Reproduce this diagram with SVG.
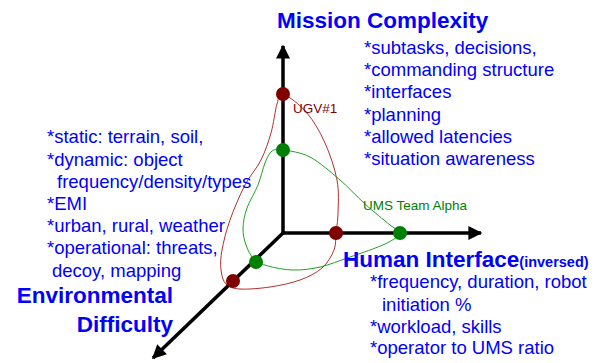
<svg xmlns="http://www.w3.org/2000/svg" width="600" height="363" viewBox="0 0 600 363">
<defs>
<style>
.title{font-family:"Liberation Sans",Arial,sans-serif;font-weight:bold;font-size:22.5px;fill:#0000ff}
.item{font-family:"Liberation Sans",Arial,sans-serif;font-size:18.5px;fill:#0000ff}
.lbl{font-family:"Liberation Sans",Arial,sans-serif;font-size:13.5px}
.axis{stroke:#000;stroke-width:3.5;fill:none}
.loop{fill:none;stroke-width:1}
</style>
<marker id="ah" viewBox="0 0 10 10" refX="9" refY="5" markerWidth="4.4" markerHeight="4" orient="auto" markerUnits="strokeWidth">
<path d="M0,0 L10,5 L0,10 Z" fill="#000"/>
</marker>
</defs>
<rect width="600" height="363" fill="#fff"/>
<g id="loops">
<path id="ugv-loop" class="loop" stroke="#b03030" d="M283,94 C288,95.5 300,104.8 307,113 C314,121.2 320,131.8 325,143 C330,154.2 334.8,168.3 337,180 C339.2,191.7 338.2,204.2 338,213 C337.8,221.8 336.7,226.8 336,233 C335.3,239.2 336.3,244.2 334,250 C331.7,255.8 327.7,263 322,268 C316.3,273 308.7,276.8 300,280 C291.3,283.2 280,285.5 270,287 C260,288.5 247.3,289.5 240,289 C232.7,288.5 229.2,287.2 226,284 C222.8,280.8 221.7,275.7 221,270 C220.3,264.3 220.5,258.3 222,250 C223.5,241.7 226.2,230.8 230,220 C233.8,209.2 239.8,195 245,185 C250.2,175 256.7,168.7 261,160 C265.3,151.3 268.3,142.3 271,133 C273.7,123.7 275,110.5 277,104 C279,97.5 278,92.5 283,94 Z"/>
<path id="team-loop" class="loop" stroke="#22a022" d="M283,150 C289.3,151 300.5,152 310,157 C319.5,162 330.8,172.2 340,180 C349.2,187.8 356.7,196.5 365,204 C373.3,211.5 384.2,220.2 390,225 C395.8,229.8 400.8,229.8 400,233 C399.2,236.2 393.3,240 385,244 C376.7,248 360.8,253.2 350,257 C339.2,260.8 329.5,264.8 320,267 C310.5,269.2 301.7,270.2 293,270 C284.3,269.8 274.5,267.8 268,266 C261.5,264.2 257.7,262.5 254,259 C250.3,255.5 247.8,250.2 246,245 C244.2,239.8 242.8,234.2 243,228 C243.2,221.8 244.5,215.2 247,208 C249.5,200.8 255,192.5 258,185 C261,177.5 262.7,168.7 265,163 C267.3,157.3 269,153.2 272,151 C275,148.8 276.7,149 283,150 Z"/>
</g>
<g id="connectors">
<line class="axis" x1="283" y1="233" x2="283" y2="46" marker-end="url(#ah)"/>
<line class="axis" x1="283" y1="233" x2="481" y2="233" marker-end="url(#ah)"/>
<line class="axis" x1="283" y1="233" x2="153" y2="358" marker-end="url(#ah)"/>
</g>
<g id="dots">
<circle cx="283" cy="94" r="7" fill="#800000"/>
<circle cx="336" cy="233" r="7" fill="#800000"/>
<circle cx="233" cy="281" r="7" fill="#800000"/>
<circle cx="283" cy="150" r="7" fill="#008000"/>
<circle cx="400" cy="233" r="7" fill="#008000"/>
<circle cx="256" cy="262" r="7" fill="#008000"/>
</g>
<g id="labels">
<text class="lbl" x="293" y="113" fill="#800000">UGV#1</text>
<text class="lbl" x="363" y="210" fill="#008000">UMS Team Alpha</text>
</g>
<g id="mission">
<text class="title" x="277" y="28">Mission Complexity</text>
<text class="item" x="364" y="54">*subtasks, decisions,</text>
<text class="item" x="364" y="76">*commanding structure</text>
<text class="item" x="364" y="98">*interfaces</text>
<text class="item" x="364" y="121">*planning</text>
<text class="item" x="364" y="143">*allowed latencies</text>
<text class="item" x="364" y="165">*situation awareness</text>
</g>
<g id="environment">
<text class="item" x="47" y="143">*static: terrain, soil,</text>
<text class="item" x="47" y="166">*dynamic: object</text>
<text class="item" x="57" y="188">frequency/density/types</text>
<text class="item" x="47" y="210">*EMI</text>
<text class="item" x="47" y="232">*urban, rural, weather</text>
<text class="item" x="47" y="254">*operational: threats,</text>
<text class="item" x="52" y="277">decoy, mapping</text>
<text class="title" x="173" y="303" text-anchor="end">Environmental</text>
<text class="title" x="173" y="332" text-anchor="end">Difficulty</text>
</g>
<g id="human">
<text class="title" x="343" y="267">Human Interface<tspan font-size="14.5px">(inversed)</tspan></text>
<text class="item" x="370" y="288">*frequency, duration, robot</text>
<text class="item" x="382" y="311">initiation %</text>
<text class="item" x="370" y="333">*workload, skills</text>
<text class="item" x="370" y="354">*operator to UMS ratio</text>
</g>
</svg>
